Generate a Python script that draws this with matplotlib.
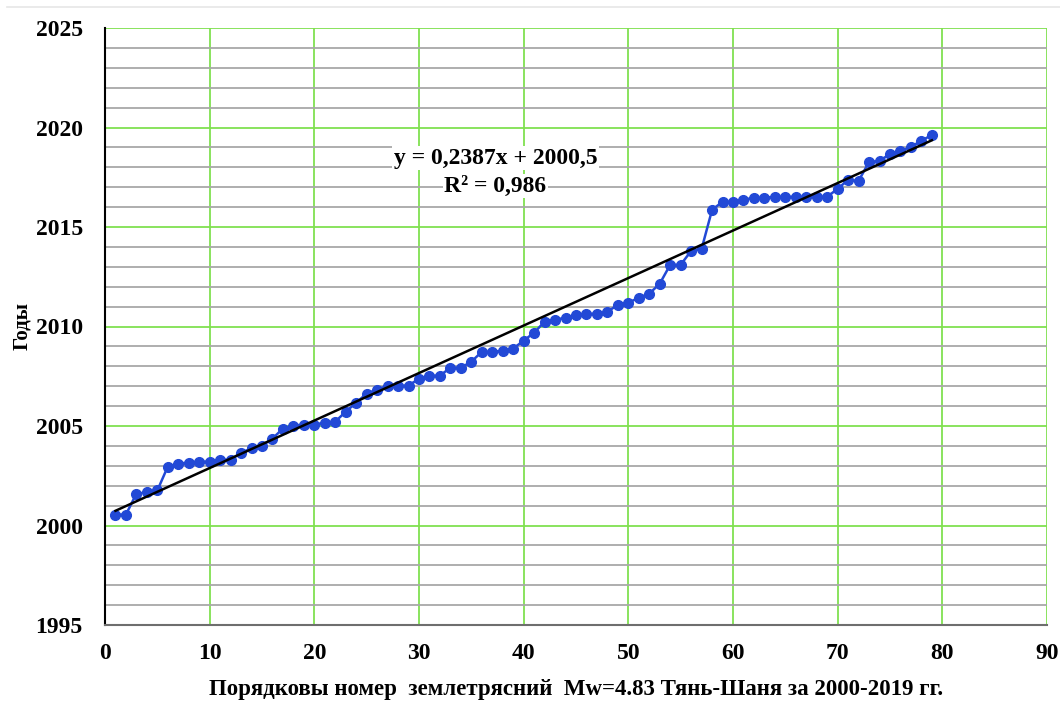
import matplotlib
matplotlib.use("Agg")
import matplotlib.pyplot as plt
import numpy as np
from matplotlib.ticker import MultipleLocator

# ---- data ----
years = [2000.55, 2000.55, 2001.60, 2001.66, 2001.76, 2002.96, 2003.11, 2003.16, 2003.21, 2003.21,
         2003.31, 2003.31, 2003.66, 2003.87, 2004.02, 2004.37, 2004.87, 2005.02, 2005.07, 2005.07,
         2005.17, 2005.22, 2005.72, 2006.17, 2006.63, 2006.83, 2007.03, 2007.03, 2007.03, 2007.38,
         2007.53, 2007.53, 2007.93, 2007.93, 2008.23, 2008.73, 2008.73, 2008.78, 2008.89, 2009.29,
         2009.69, 2010.24, 2010.34, 2010.44, 2010.59, 2010.64, 2010.64, 2010.74, 2011.09, 2011.19,
         2011.45, 2011.65, 2012.15, 2013.10, 2013.10, 2013.80, 2013.90, 2015.86, 2016.27, 2016.27,
         2016.37, 2016.47, 2016.47, 2016.52, 2016.52, 2016.52, 2016.52, 2016.52, 2016.52, 2016.92,
         2017.37, 2017.32, 2018.27, 2018.32, 2018.67, 2018.82, 2019.03, 2019.33, 2019.63]
numbers = list(range(1, len(years) + 1))
trend_slope = 0.2387
trend_intercept = 2000.5
eq_text = "y = 0,2387x + 2000,5"
r2_text = "R² = 0,986"
x_ticks = [0, 10, 20, 30, 40, 50, 60, 70, 80, 90]
y_ticks = [1995, 2000, 2005, 2010, 2015, 2020, 2025]
xlabel = "Порядковы номер  землетрясний  Mw=4.83 Тянь-Шаня за 2000-2019 гг."
ylabel = "Годы"

plt.rcParams['font.family'] = ['Liberation Serif', 'DejaVu Serif']

fig = plt.figure(figsize=(10.6, 7.04), dpi=100)
ax = fig.add_axes([105/1060, 1 - 625/704, (1047 - 105)/1060, (625 - 28)/704])

ax.set_xlim(0, 90)
ax.set_ylim(1995, 2025)
ax.set_xticks(x_ticks)
ax.set_yticks(y_ticks)
ax.yaxis.set_minor_locator(MultipleLocator(1))
ax.grid(which='minor', axis='y', color='#A8A8A8', linewidth=1.3, zorder=0)
ax.grid(which='major', axis='both', color='#80E050', linewidth=1.3, zorder=0)
ax.tick_params(which='both', length=0)
ax.tick_params(axis='y', pad=16, labelsize=17)
ax.tick_params(axis='x', pad=13, labelsize=17)
for lab in ax.get_xticklabels() + ax.get_yticklabels():
    lab.set_fontweight('bold')

for s in ['top', 'right']:
    ax.spines[s].set_visible(False)
ax.spines['left'].set_color('black')
ax.spines['left'].set_linewidth(1.5)
ax.spines['bottom'].set_color('#6E6E6E')
ax.spines['bottom'].set_linewidth(1.5)

ax.plot(numbers, years, color='#2249D6', linewidth=1.8, marker='o',
        markersize=7, zorder=3)

tx = np.array([numbers[0], numbers[-1]])
ax.plot(tx, trend_slope * tx + trend_intercept, color='black', linewidth=1.8, zorder=4)

bbox = dict(facecolor='white', edgecolor='none', pad=1)
ax.text(37.3, 2018.45, eq_text, ha='center', va='center', fontsize=17,
        fontweight='bold', bbox=bbox, zorder=5)
ax.text(37.3, 2017.05, r2_text, ha='center', va='center', fontsize=17,
        fontweight='bold', bbox=bbox, zorder=5)

ax.set_xlabel(xlabel, fontsize=16.5, fontweight='bold')
ax.xaxis.set_label_coords(0.5, -54/597)
ax.set_ylabel(ylabel, fontsize=15, fontweight='bold')
ax.yaxis.set_label_coords(-73/942, 0.5)

fig.add_artist(plt.Line2D([7/1060, 1], [1 - 7/704, 1 - 7/704], color='#E6E6E6',
                          linewidth=1.2, transform=fig.transFigure))

fig.savefig('out.png', dpi=100)
